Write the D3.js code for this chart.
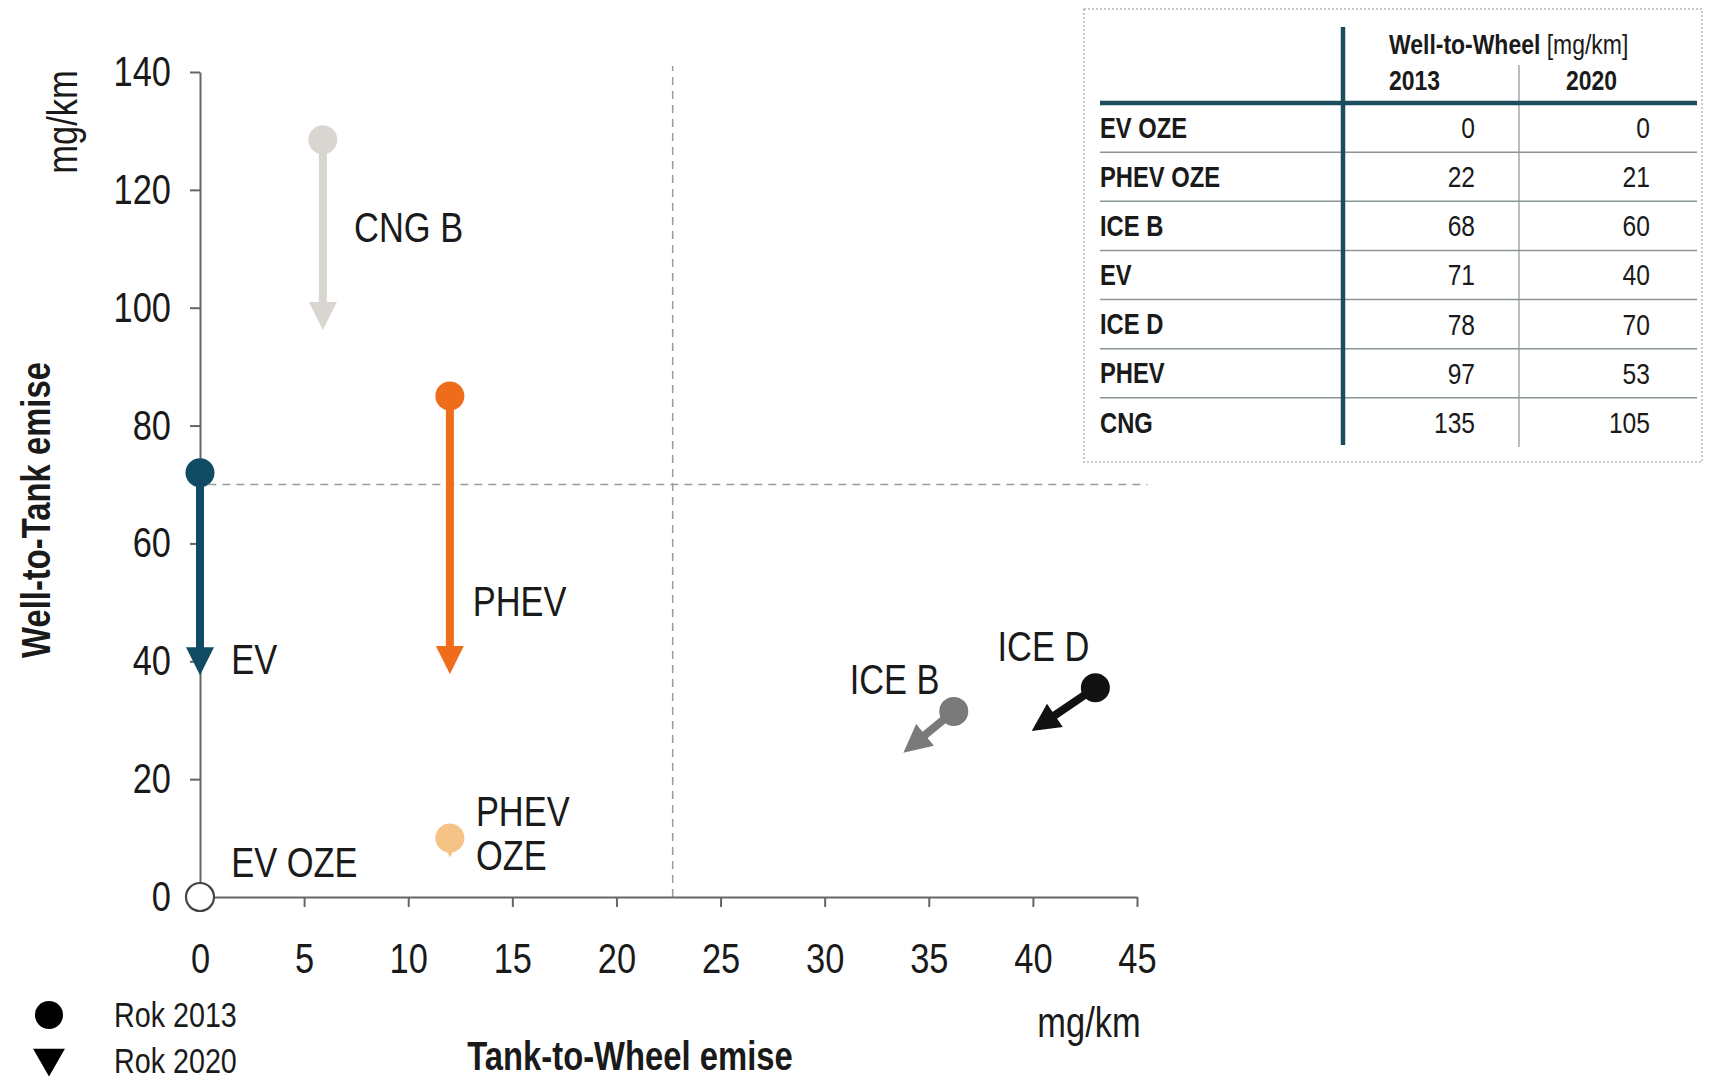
<!DOCTYPE html>
<html>
<head>
<meta charset="utf-8">
<script src="https://cdn.jsdelivr.net/npm/d3@7"></script>
<style>
  html, body { margin: 0; padding: 0; background: #fff; }
  svg { display: block; }
  text { font-family: "Liberation Sans", Arial, sans-serif; }
</style>
</head>
<body>
<svg id="chart" width="1711" height="1080"></svg>
<script>
// ---------- DATA ----------
const categories = ["EV OZE", "PHEV OZE", "EV", "PHEV", "CNG B", "ICE B", "ICE D"];
const ttw2013 = [0, 12, 0, 12, 5.9, 36.2, 43.0];
const wtt2013 = [0, 10, 72, 85, 128.5, 31.5, 35.5];
const ttw2020 = [0, 12, 0, 12, 5.9, 34.3, 40.5];
const wtt2020 = [0, 8.5, 40, 40.2, 98.6, 26, 29.5];

const xTicks = [0, 5, 10, 15, 20, 25, 30, 35, 40, 45];
const yTicks = [0, 20, 40, 60, 80, 100, 120, 140];

const tableRows = ["EV OZE", "PHEV OZE", "ICE B", "EV", "ICE D", "PHEV", "CNG"];
const tableWtw2013 = [0, 22, 68, 71, 78, 97, 135];
const tableWtw2020 = [0, 21, 60, 40, 70, 53, 105];

const refTTW = 22.7;   // vertical dashed reference
const refWTT = 70;     // horizontal dashed reference

// ---------- STYLE ----------
const colorScale = d3.scaleOrdinal(categories,
  ["#ffffff", "#f6c387", "#104a63", "#ee6c1a", "#d9d5d1", "#7a7a7a", "#111111"]);

// label anchors (data units) and text lines
const labelInfo = {
  "CNG B":   {x: 7.4,  y: 113.7, lines: ["CNG B"]},
  "PHEV":    {x: 13.1, y: 50.2,  lines: ["PHEV"]},
  "EV":      {x: 1.5,  y: 40.4,  lines: ["EV"]},
  "ICE B":   {x: 31.2, y: 37.0,  lines: ["ICE B"]},
  "ICE D":   {x: 38.3, y: 42.6,  lines: ["ICE D"]},
  "PHEV OZE":{x: 13.25,y: 14.6,  lines: ["PHEV", "OZE"]},
  "EV OZE":  {x: 1.5,  y: 5.9,   lines: ["EV OZE"]}
};

const svg = d3.select("#chart");
const x = d3.scaleLinear([0, 45], [200, 1137]);
const y = d3.scaleLinear([0, 140], [897, 72]);

// ---------- reference dashed lines ----------
svg.append("line")
  .attr("x1", x(refTTW)).attr("x2", x(refTTW))
  .attr("y1", y(0)).attr("y2", y(141))
  .attr("stroke", "#9a9a9a").attr("stroke-width", 1.5).attr("stroke-dasharray", "8,6");
svg.append("line")
  .attr("x1", x(0.4)).attr("x2", x(45.5))
  .attr("y1", y(refWTT)).attr("y2", y(refWTT))
  .attr("stroke", "#9a9a9a").attr("stroke-width", 1.5).attr("stroke-dasharray", "8,6");

// ---------- axes ----------
const yAxis = svg.append("g")
  .attr("transform", `translate(${x(0)},0)`)
  .call(d3.axisLeft(y).tickValues(yTicks).tickSize(10).tickSizeOuter(0).tickPadding(19));
const xAxis = svg.append("g")
  .attr("transform", `translate(0,${y(0)})`)
  .call(d3.axisBottom(x).tickValues(xTicks).tickSize(10).tickSizeOuter(0).tickPadding(36));
[yAxis, xAxis].forEach(g => {
  g.selectAll("path, line").attr("stroke", "#666").attr("stroke-width", 2);
  g.selectAll("text").attr("font-size", 42).attr("fill", "#1a1a1a")
    .style("font-family", '"Liberation Sans", Arial, sans-serif');
});

// ---------- arrows ----------
const L = 28, W = 28;
const pts = categories.map((c, i) => {
  const p1 = [x(ttw2013[i]), y(wtt2013[i])];
  const p2 = [x(ttw2020[i]), y(wtt2020[i])];
  const dx = p2[0] - p1[0], dy = p2[1] - p1[1];
  const len = Math.hypot(dx, dy);
  return {c, i, p1, p2, len, ux: len ? dx / len : 0, uy: len ? dy / len : 0};
});

const arrows = pts.filter(d => d.len > 0);
svg.append("g").selectAll("line").data(arrows.filter(d => d.len > L)).join("line")
  .attr("x1", d => d.p1[0]).attr("y1", d => d.p1[1])
  .attr("x2", d => d.p2[0] - d.ux * (L / 2 - 2)).attr("y2", d => d.p2[1] - d.uy * (L / 2 - 2))
  .attr("stroke", d => colorScale(d.c)).attr("stroke-width", 8);

svg.append("g").selectAll("path").data(arrows).join("path")
  .attr("d", d => {
    const s = d.len > L ? 1 : 0.75;
    const tip = [d.p2[0] + d.ux * s * L / 2, d.p2[1] + d.uy * s * L / 2];
    const b = [d.p2[0] - d.ux * s * L / 2, d.p2[1] - d.uy * s * L / 2];
    const px = -d.uy, py = d.ux;
    return `M${tip[0]},${tip[1]}L${b[0] + px * s * W / 2},${b[1] + py * s * W / 2}L${b[0] - px * s * W / 2},${b[1] - py * s * W / 2}Z`;
  })
  .attr("fill", d => colorScale(d.c));

svg.append("g").selectAll("circle").data(pts).join("circle")
  .attr("cx", d => d.p1[0]).attr("cy", d => d.p1[1])
  .attr("r", d => d.c === "EV OZE" ? 14 : 14.5)
  .attr("fill", d => colorScale(d.c))
  .attr("stroke", d => d.c === "EV OZE" ? "#444" : "none")
  .attr("stroke-width", 2.2);

// ---------- labels ----------
const lab = svg.append("g");
categories.forEach(c => {
  const info = labelInfo[c];
  info.lines.forEach((t, k) => {
    lab.append("text")
      .attr("x", x(info.x))
      .attr("y", y(info.y) + k * 44)
      .attr("dy", "0.35em")
      .attr("font-size", 42).attr("fill", "#1a1a1a")
      .text(t);
  });
});

// ---------- axis titles ----------
svg.append("text")
  .attr("transform", `translate(36,510) rotate(-90)`)
  .attr("text-anchor", "middle").attr("dy", "0.35em")
  .attr("font-size", 40).attr("font-weight", "bold").attr("fill", "#1a1a1a")
  .text("Well-to-Tank emise");
svg.append("text")
  .attr("transform", `translate(62,122) rotate(-90)`)
  .attr("text-anchor", "middle").attr("dy", "0.35em")
  .attr("font-size", 42).attr("fill", "#1a1a1a")
  .text("mg/km");
svg.append("text")
  .attr("x", 630).attr("y", 1056).attr("dy", "0.35em")
  .attr("text-anchor", "middle")
  .attr("font-size", 40).attr("font-weight", "bold").attr("fill", "#1a1a1a")
  .text("Tank-to-Wheel emise");
svg.append("text")
  .attr("x", 1089).attr("y", 1022).attr("dy", "0.35em")
  .attr("text-anchor", "middle")
  .attr("font-size", 42).attr("fill", "#1a1a1a")
  .text("mg/km");

// ---------- legend ----------
svg.append("circle").attr("cx", 49).attr("cy", 1015).attr("r", 14).attr("fill", "#000");
svg.append("path")
  .attr("d", d3.symbol(d3.symbolTriangle, 440)())
  .attr("transform", "translate(49,1058) rotate(180)")
  .attr("fill", "#000");
svg.append("text").attr("x", 114).attr("y", 1015).attr("dy", "0.35em")
  .attr("font-size", 35).attr("fill", "#1a1a1a").text("Rok 2013");
svg.append("text").attr("x", 114).attr("y", 1061).attr("dy", "0.35em")
  .attr("font-size", 35).attr("fill", "#1a1a1a").text("Rok 2020");

// ---------- table ----------
const tbl = svg.append("g");
const teal = "#1b4d5e";
tbl.append("rect")
  .attr("x", 1084).attr("y", 9).attr("width", 618).attr("height", 453)
  .attr("fill", "none").attr("stroke", "#b8b8b8").attr("stroke-width", 1.5)
  .attr("stroke-dasharray", "2,2");

const rowY = d3.scaleBand(tableRows, [103, 447]);
const colX = {label: 1100, c2013: 1475, c2020: 1650};

tbl.selectAll("line.sep").data(tableRows.slice(1)).join("line")
  .attr("class", "sep")
  .attr("x1", 1100).attr("x2", 1697)
  .attr("y1", d => rowY(d)).attr("y2", d => rowY(d))
  .attr("stroke", "#8a9498").attr("stroke-width", 1.5);
tbl.append("line").attr("x1", 1519).attr("x2", 1519).attr("y1", 65).attr("y2", 447)
  .attr("stroke", "#8a9498").attr("stroke-width", 1.2);
tbl.append("line").attr("x1", 1100).attr("x2", 1697).attr("y1", 103).attr("y2", 103)
  .attr("stroke", teal).attr("stroke-width", 4.5);
tbl.append("line").attr("x1", 1343).attr("x2", 1343).attr("y1", 27).attr("y2", 445)
  .attr("stroke", teal).attr("stroke-width", 4.5);

const hdr = tbl.append("text").attr("x", 1389).attr("y", 44).attr("dy", "0.35em")
  .attr("font-size", 28).attr("fill", "#1a1a1a");
hdr.append("tspan").attr("font-weight", "bold").text("Well-to-Wheel");
hdr.append("tspan").text(" [mg/km]");
tbl.append("text").attr("x", 1389).attr("y", 80).attr("dy", "0.35em")
  .attr("font-size", 28).attr("font-weight", "bold").attr("fill", "#1a1a1a").text("2013");
tbl.append("text").attr("x", 1566).attr("y", 80).attr("dy", "0.35em")
  .attr("font-size", 28).attr("font-weight", "bold").attr("fill", "#1a1a1a").text("2020");

tableRows.forEach((r, i) => {
  const cy = rowY(r) + rowY.bandwidth() / 2;
  tbl.append("text").attr("x", colX.label).attr("y", cy).attr("dy", "0.35em")
    .attr("font-size", 29).attr("font-weight", "bold").attr("fill", "#1a1a1a").text(r);
  tbl.append("text").attr("x", colX.c2013).attr("y", cy).attr("dy", "0.35em")
    .attr("text-anchor", "end").attr("font-size", 30).attr("fill", "#1a1a1a").text(tableWtw2013[i]);
  tbl.append("text").attr("x", colX.c2020).attr("y", cy).attr("dy", "0.35em")
    .attr("text-anchor", "end").attr("font-size", 30).attr("fill", "#1a1a1a").text(tableWtw2020[i]);
});

// ---------- emulate a narrow typeface: squeeze every text horizontally around its anchor ----------
svg.selectAll("text").each(function () {
  const t = d3.select(this);
  const ax = +t.attr("x") || 0;
  const tr = t.attr("transform") || "";
  t.attr("transform", `${tr} translate(${ax},0) scale(0.82,1) translate(${-ax},0)`);
});
</script>
</body>
</html>
